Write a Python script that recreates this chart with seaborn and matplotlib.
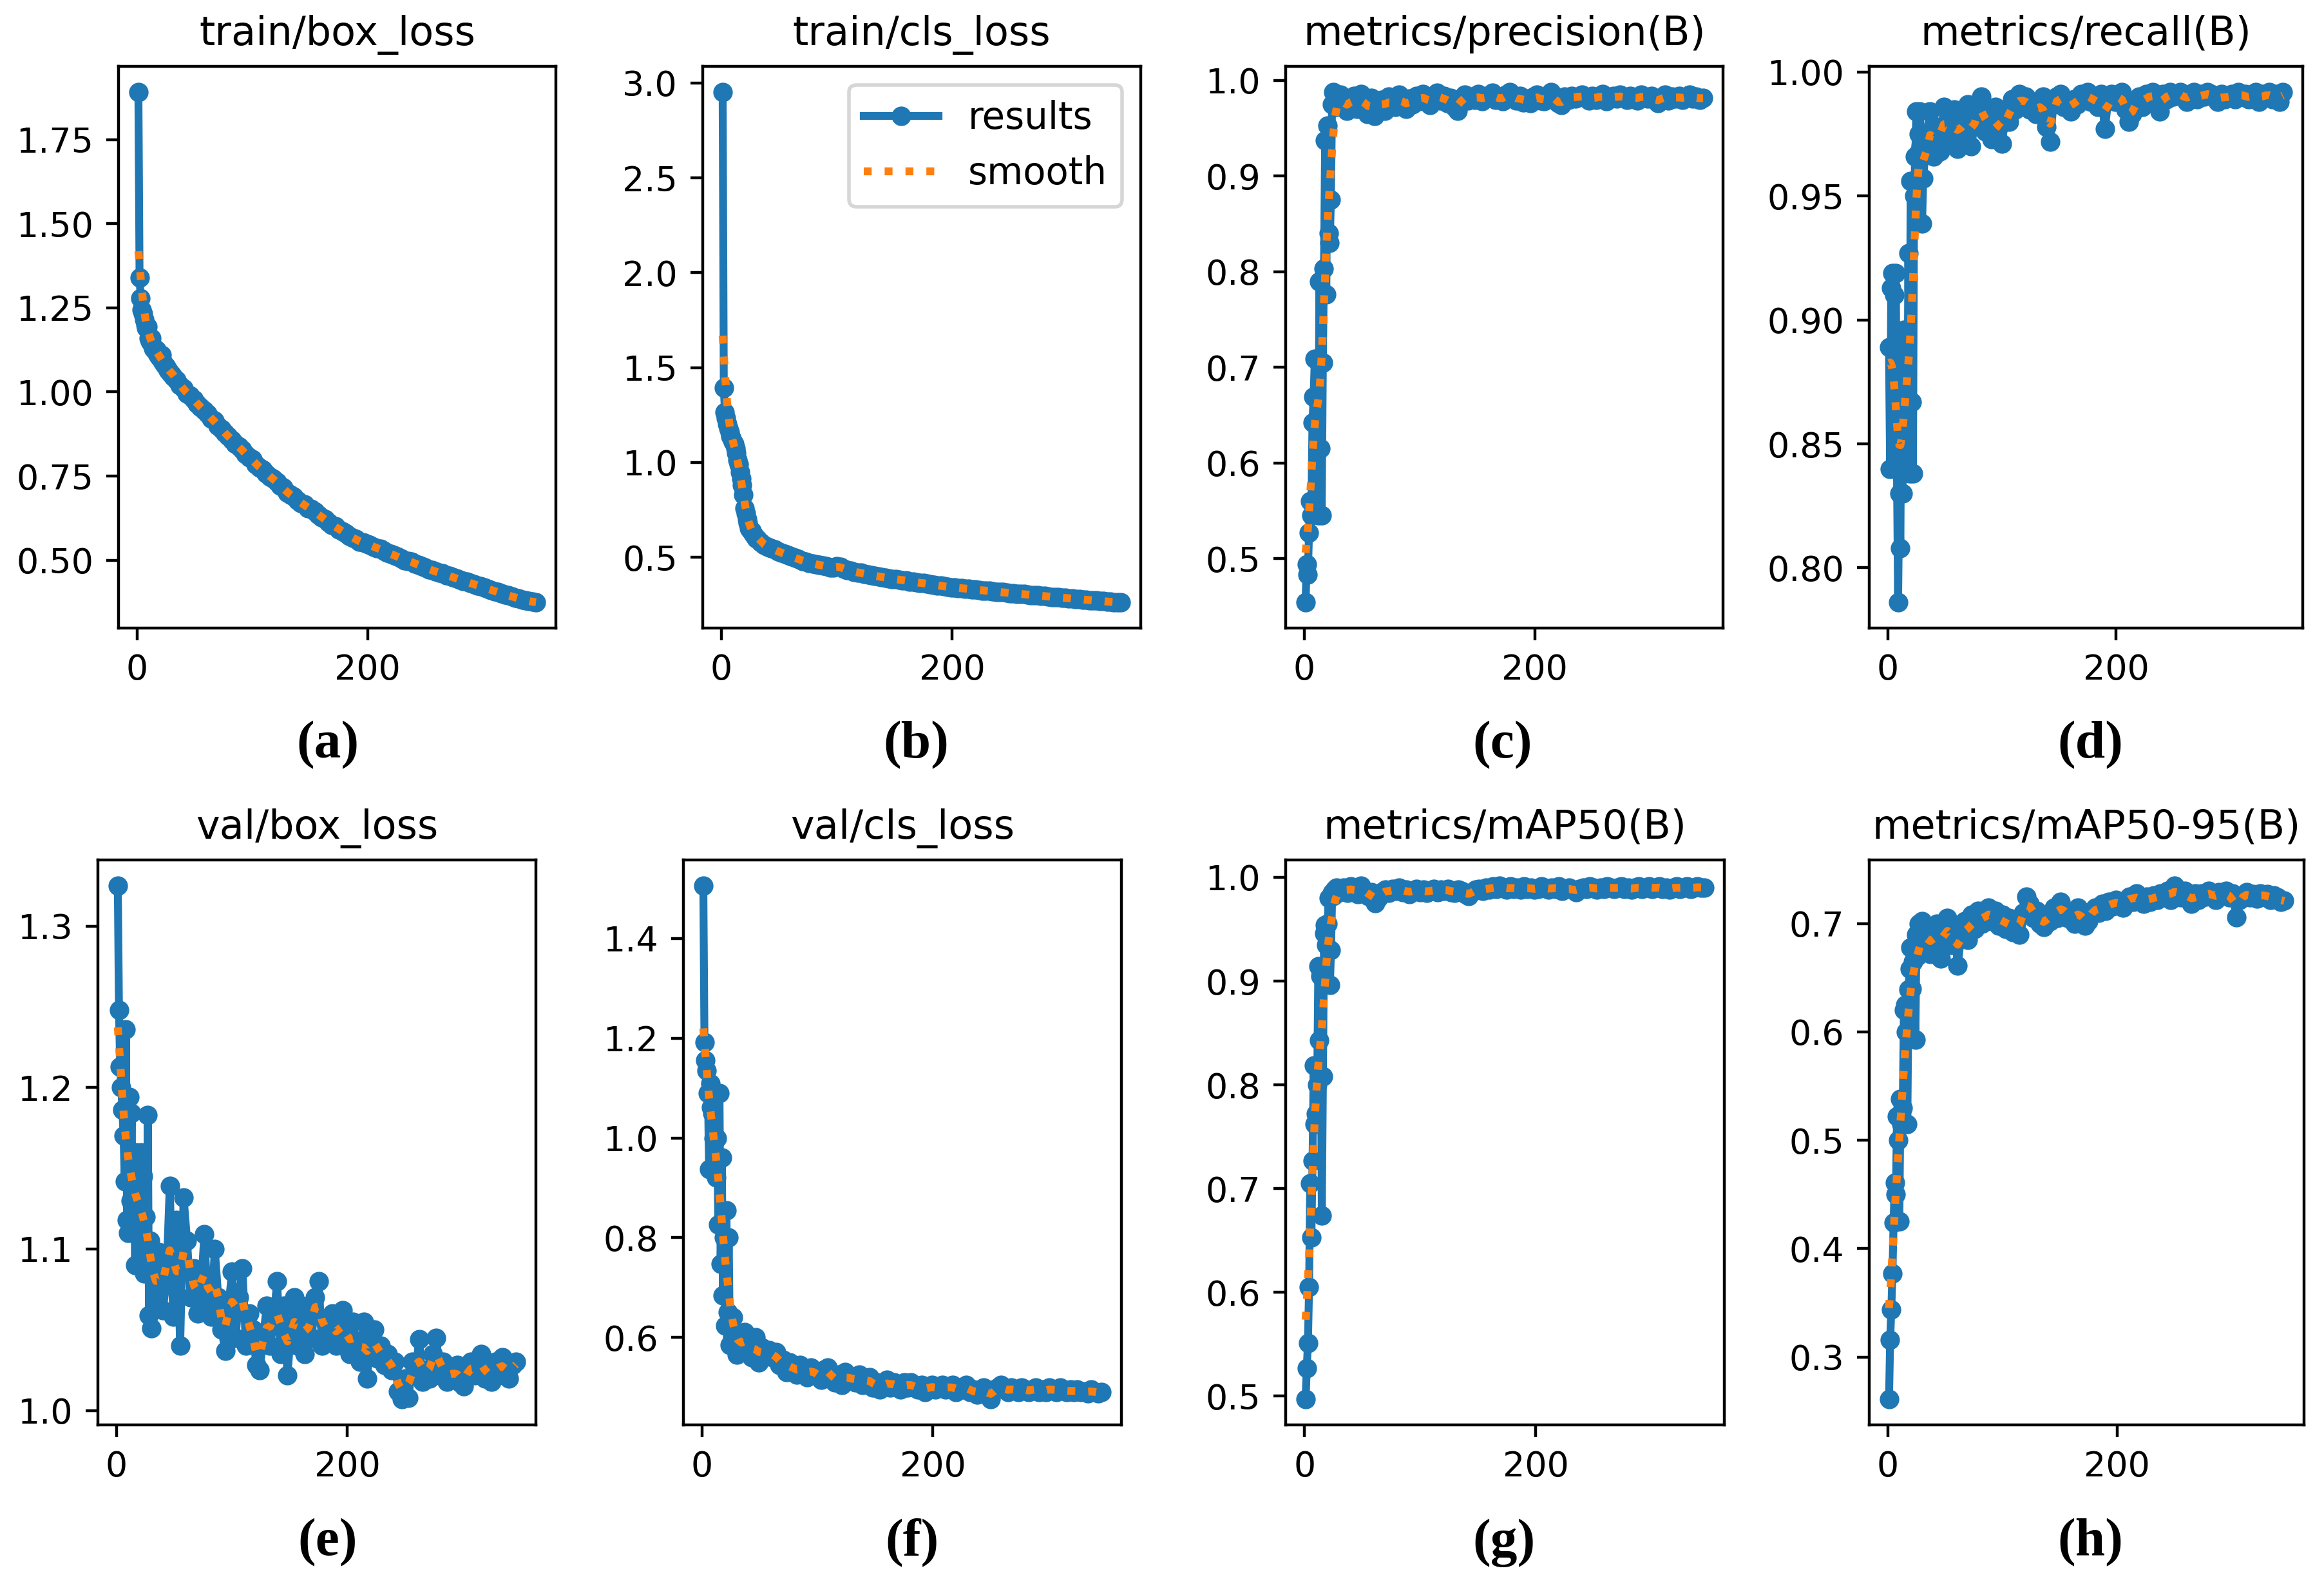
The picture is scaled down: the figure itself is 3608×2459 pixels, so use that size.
import numpy as np
import pandas as pd
import seaborn as sns
import matplotlib.pyplot as plt

# epochs: every epoch up to 30, then every 3rd epoch
epochs = list(range(1, 31)) + list(range(31, 347, 3))

train_box_loss = [
    1.892, 1.340, 1.278, 1.245, 1.232, 1.215, 1.200, 1.190, 1.195, 1.160,
    1.150, 1.160, 1.140, 1.130, 1.125, 1.120, 1.125, 1.110, 1.105, 1.100,
    1.110, 1.090, 1.085, 1.080, 1.075, 1.068, 1.065, 1.060, 1.055, 1.050,
    1.045, 1.035, 1.020, 1.010, 0.995, 0.990, 0.978, 0.965, 0.955, 0.945,
    0.935, 0.920, 0.915, 0.900, 0.890, 0.878, 0.868, 0.858, 0.845, 0.838,
    0.828, 0.815, 0.805, 0.800, 0.785, 0.775, 0.770, 0.758, 0.748, 0.742,
    0.732, 0.722, 0.715, 0.700, 0.695, 0.688, 0.678, 0.670, 0.665, 0.655,
    0.652, 0.645, 0.635, 0.628, 0.622, 0.612, 0.605, 0.600, 0.592, 0.585,
    0.580, 0.572, 0.566, 0.562, 0.555, 0.552, 0.548, 0.545, 0.540, 0.535,
    0.533, 0.528, 0.522, 0.518, 0.515, 0.510, 0.505, 0.500, 0.498, 0.495,
    0.490, 0.486, 0.482, 0.478, 0.473, 0.470, 0.466, 0.462, 0.460, 0.456,
    0.453, 0.449, 0.446, 0.441, 0.438, 0.436, 0.432, 0.428, 0.425, 0.422,
    0.418, 0.415, 0.411, 0.408, 0.405, 0.401, 0.398, 0.395, 0.392, 0.389,
    0.386, 0.383, 0.381, 0.378, 0.376, 0.374]

train_cls_loss = [
    2.953, 1.394, 1.265, 1.235, 1.205, 1.180, 1.160, 1.140, 1.125, 1.110,
    1.100, 1.075, 1.050, 1.015, 0.990, 0.950, 0.915, 0.880, 0.830, 0.760,
    0.730, 0.700, 0.680, 0.655, 0.645, 0.640, 0.630, 0.620, 0.610, 0.600,
    0.595, 0.580, 0.565, 0.555, 0.550, 0.540, 0.530, 0.525, 0.518, 0.510,
    0.505, 0.498, 0.490, 0.482, 0.478, 0.472, 0.468, 0.462, 0.460, 0.457,
    0.453, 0.448, 0.445, 0.455, 0.450, 0.440, 0.433, 0.428, 0.424, 0.420,
    0.418, 0.414, 0.410, 0.405, 0.403, 0.400, 0.396, 0.393, 0.390, 0.386,
    0.385, 0.383, 0.380, 0.378, 0.373, 0.371, 0.368, 0.366, 0.364, 0.361,
    0.358, 0.355, 0.352, 0.350, 0.347, 0.345, 0.343, 0.341, 0.339, 0.337,
    0.336, 0.334, 0.332, 0.330, 0.328, 0.326, 0.325, 0.323, 0.321, 0.319,
    0.317, 0.316, 0.314, 0.312, 0.311, 0.309, 0.307, 0.306, 0.304, 0.302,
    0.301, 0.299, 0.297, 0.296, 0.294, 0.292, 0.291, 0.289, 0.288, 0.286,
    0.285, 0.283, 0.281, 0.280, 0.278, 0.276, 0.275, 0.273, 0.272, 0.270,
    0.269, 0.267, 0.266, 0.264, 0.263, 0.262]

precision = [
    0.454, 0.494, 0.483, 0.527, 0.560, 0.545, 0.642, 0.669, 0.709, 0.640,
    0.709, 0.545, 0.790, 0.615, 0.545, 0.705, 0.803, 0.937, 0.776, 0.953,
    0.840, 0.830, 0.875, 0.975, 0.988, 0.978, 0.985, 0.972, 0.982, 0.978,
    0.985, 0.975, 0.968, 0.980, 0.984, 0.970, 0.986, 0.978, 0.965, 0.982,
    0.963, 0.975, 0.980, 0.968, 0.983, 0.976, 0.972, 0.985, 0.979, 0.970,
    0.981, 0.975, 0.984, 0.978, 0.986, 0.980, 0.974, 0.983, 0.987, 0.979,
    0.984, 0.976, 0.982, 0.972, 0.968, 0.981, 0.985, 0.979, 0.983, 0.980,
    0.986, 0.978, 0.982, 0.984, 0.987, 0.980, 0.983, 0.978, 0.985, 0.988,
    0.982, 0.979, 0.984, 0.977, 0.981, 0.976, 0.983, 0.985, 0.979, 0.978,
    0.982, 0.988, 0.980, 0.976, 0.974, 0.983, 0.980, 0.984, 0.981, 0.983,
    0.985, 0.982, 0.979, 0.984, 0.980, 0.983, 0.986, 0.978, 0.982, 0.984,
    0.981, 0.985, 0.983, 0.980, 0.984, 0.982, 0.979, 0.985, 0.983, 0.981,
    0.984, 0.980, 0.976, 0.982, 0.985, 0.979, 0.983, 0.981, 0.984, 0.980,
    0.982, 0.985, 0.981, 0.983, 0.980, 0.982]

recall = [
    0.889, 0.840, 0.913, 0.919, 0.840, 0.910, 0.919, 0.840, 0.786, 0.830,
    0.808, 0.895, 0.830, 0.896, 0.839, 0.896, 0.839, 0.927, 0.838, 0.956,
    0.867, 0.838, 0.950, 0.966, 0.984, 0.967, 0.975, 0.984, 0.970, 0.939,
    0.957, 0.975, 0.984, 0.966, 0.978, 0.968, 0.986, 0.980, 0.972, 0.985,
    0.969, 0.982, 0.975, 0.987, 0.970, 0.979, 0.985, 0.990, 0.976, 0.983,
    0.973, 0.986, 0.978, 0.971, 0.984, 0.980, 0.989, 0.985, 0.991, 0.987,
    0.990, 0.985, 0.988, 0.983, 0.986, 0.990, 0.978, 0.972, 0.987, 0.990,
    0.991, 0.986, 0.988, 0.984, 0.989, 0.987, 0.991, 0.989, 0.992, 0.988,
    0.990, 0.986, 0.991, 0.977, 0.989, 0.991, 0.988, 0.990, 0.992, 0.985,
    0.980, 0.983, 0.988, 0.990, 0.986, 0.991, 0.989, 0.992, 0.990, 0.984,
    0.991, 0.989, 0.992, 0.990, 0.991, 0.992, 0.990, 0.988, 0.991, 0.992,
    0.989, 0.991, 0.990, 0.992, 0.991, 0.990, 0.988, 0.991, 0.989, 0.990,
    0.991, 0.989, 0.992, 0.990, 0.991, 0.989, 0.990, 0.992, 0.988, 0.991,
    0.990, 0.992, 0.989, 0.991, 0.988, 0.992]

val_box_loss = [
    1.325, 1.248, 1.213, 1.200, 1.186, 1.170, 1.142, 1.236, 1.118, 1.110,
    1.194, 1.130, 1.184, 1.110, 1.150, 1.090, 1.160, 1.120, 1.155, 1.090,
    1.160, 1.100, 1.145, 1.085, 1.120, 1.095, 1.183, 1.059, 1.105, 1.051,
    1.085, 1.070, 1.098, 1.062, 1.080, 1.139, 1.058, 1.118, 1.040, 1.132,
    1.105, 1.070, 1.088, 1.060, 1.075, 1.109, 1.065, 1.058, 1.100, 1.070,
    1.050, 1.037, 1.065, 1.086, 1.045, 1.070, 1.088, 1.040, 1.060, 1.050,
    1.028, 1.025, 1.045, 1.065, 1.040, 1.055, 1.080, 1.035, 1.065, 1.022,
    1.050, 1.070, 1.040, 1.065, 1.035, 1.060, 1.045, 1.070, 1.080, 1.040,
    1.055, 1.048, 1.060, 1.040, 1.050, 1.062, 1.045, 1.035, 1.055, 1.040,
    1.030, 1.055, 1.020, 1.045, 1.050, 1.032, 1.040, 1.028, 1.035, 1.025,
    1.030, 1.012, 1.007, 1.020, 1.008, 1.030, 1.022, 1.044, 1.018, 1.025,
    1.020, 1.035, 1.045, 1.022, 1.030, 1.018, 1.025, 1.020, 1.028, 1.017,
    1.015, 1.025, 1.030, 1.022, 1.028, 1.035, 1.020, 1.025, 1.018, 1.030,
    1.022, 1.033, 1.025, 1.020, 1.028, 1.030]

val_cls_loss = [
    1.506, 1.192, 1.156, 1.135, 1.090, 0.938, 1.109, 1.062, 1.050, 1.000,
    0.960, 0.920, 1.000, 0.826, 1.090, 0.748, 0.960, 0.684, 0.800, 0.623,
    0.855, 0.650, 0.800, 0.585, 0.640, 0.600, 0.640, 0.610, 0.585, 0.565,
    0.600, 0.575, 0.610, 0.585, 0.560, 0.600, 0.550, 0.580, 0.565, 0.575,
    0.560, 0.570, 0.545, 0.555, 0.530, 0.550, 0.540, 0.525, 0.545, 0.535,
    0.520, 0.540, 0.530, 0.525, 0.515, 0.535, 0.540, 0.520, 0.510, 0.525,
    0.505, 0.530, 0.515, 0.520, 0.510, 0.525, 0.505, 0.515, 0.520, 0.500,
    0.510, 0.495, 0.505, 0.515, 0.500, 0.510, 0.505, 0.495, 0.510, 0.500,
    0.510, 0.500, 0.495, 0.505, 0.490, 0.500, 0.505, 0.495, 0.500, 0.505,
    0.495, 0.500, 0.505, 0.490, 0.500, 0.495, 0.505, 0.490, 0.495, 0.485,
    0.495, 0.500, 0.490, 0.476, 0.495, 0.500, 0.505, 0.495, 0.490, 0.500,
    0.495, 0.490, 0.500, 0.495, 0.490, 0.495, 0.500, 0.490, 0.495, 0.490,
    0.500, 0.495, 0.490, 0.500, 0.495, 0.490, 0.495, 0.490, 0.495, 0.490,
    0.492, 0.488, 0.495, 0.490, 0.488, 0.490]

map50 = [
    0.497, 0.527, 0.551, 0.605, 0.705, 0.653, 0.727, 0.819, 0.762, 0.772,
    0.800, 0.914, 0.843, 0.905, 0.674, 0.808, 0.946, 0.954, 0.935, 0.955,
    0.980, 0.896, 0.930, 0.985, 0.982, 0.988, 0.986, 0.990, 0.985, 0.988,
    0.987, 0.990, 0.985, 0.991, 0.988, 0.984, 0.992, 0.987, 0.982, 0.986,
    0.975, 0.980, 0.986, 0.988, 0.985, 0.989, 0.987, 0.990, 0.986, 0.988,
    0.984, 0.987, 0.989, 0.986, 0.988, 0.985, 0.987, 0.989, 0.986, 0.988,
    0.987, 0.989, 0.986, 0.985, 0.988, 0.987, 0.984, 0.982, 0.986, 0.988,
    0.989, 0.987, 0.990, 0.988, 0.991, 0.989, 0.992, 0.990, 0.988, 0.991,
    0.989, 0.990, 0.988, 0.991, 0.989, 0.990, 0.988, 0.989, 0.991, 0.990,
    0.988, 0.990, 0.989, 0.991, 0.987, 0.989, 0.990, 0.988, 0.986, 0.989,
    0.990, 0.989, 0.991, 0.990, 0.988, 0.990, 0.989, 0.991, 0.990, 0.989,
    0.990, 0.991, 0.989, 0.990, 0.988, 0.990, 0.991, 0.989, 0.990, 0.991,
    0.989, 0.990, 0.991, 0.989, 0.990, 0.988, 0.990, 0.991, 0.989, 0.990,
    0.991, 0.989, 0.990, 0.991, 0.990, 0.990]

map50_95 = [
    0.261, 0.316, 0.344, 0.377, 0.424, 0.461, 0.450, 0.522, 0.500, 0.425,
    0.538, 0.515, 0.530, 0.620, 0.625, 0.600, 0.515, 0.639, 0.658, 0.678,
    0.640, 0.665, 0.680, 0.593, 0.690, 0.670, 0.700, 0.685, 0.675, 0.702,
    0.680, 0.695, 0.672, 0.688, 0.700, 0.668, 0.692, 0.705, 0.680, 0.698,
    0.661, 0.690, 0.702, 0.685, 0.708, 0.695, 0.712, 0.700, 0.705, 0.715,
    0.702, 0.712, 0.698, 0.708, 0.695, 0.705, 0.692, 0.700, 0.690, 0.710,
    0.725, 0.718, 0.705, 0.712, 0.700, 0.697, 0.708, 0.702, 0.715, 0.705,
    0.720, 0.712, 0.705, 0.710, 0.700, 0.715, 0.708, 0.698, 0.702, 0.712,
    0.715, 0.710, 0.718, 0.712, 0.720, 0.716, 0.722, 0.718, 0.715, 0.722,
    0.725, 0.720, 0.728, 0.722, 0.718, 0.725, 0.720, 0.726, 0.722, 0.728,
    0.725, 0.730, 0.722, 0.735, 0.728, 0.724, 0.730, 0.726, 0.718, 0.728,
    0.722, 0.728, 0.725, 0.730, 0.727, 0.722, 0.729, 0.726, 0.730, 0.724,
    0.728, 0.706, 0.722, 0.726, 0.729, 0.724, 0.727, 0.723, 0.728, 0.725,
    0.727, 0.722, 0.726, 0.724, 0.720, 0.721]

titles = ['train/box_loss', 'train/cls_loss', 'metrics/precision(B)', 'metrics/recall(B)',
          'val/box_loss', 'val/cls_loss', 'metrics/mAP50(B)', 'metrics/mAP50-95(B)']
series = [train_box_loss, train_cls_loss, precision, recall,
          val_box_loss, val_cls_loss, map50, map50_95]
panel_tags = ['(a)', '(b)', '(c)', '(d)', '(e)', '(f)', '(g)', '(h)']
ytick_steps = [0.25, 0.5, 0.1, 0.05, 0.1, 0.2, 0.1, 0.1]

# axes boxes in pixels of the 3608x2459 figure: left, top, width, height
W, H = 3608, 2459
boxes = [(184, 103, 679, 872), (1091, 103, 680, 872), (1996, 103, 679, 872), (2902, 103, 673, 872),
         (152, 1335, 680, 877), (1061, 1335, 680, 877), (1996, 1335, 681, 877), (2902, 1335, 675, 877)]
tag_pos = [(509, 1157), (1422, 1157), (2333, 1157), (3245, 1157),
           (509, 2395), (1416, 2395), (2335, 2395), (3245, 2395)]


def smooth(x, y, sigma=3.0):
    # gaussian smoothing over epochs (like gaussian_filter1d, sigma=3)
    x = np.asarray(x, float)
    y = np.asarray(y, float)
    w = np.exp(-0.5 * ((x[:, None] - x[None, :]) / sigma) ** 2)
    return (w @ y) / w.sum(axis=1)


fig = plt.figure(figsize=(W / 400, H / 400), dpi=400)

for i, (title, y) in enumerate(zip(titles, series)):
    assert len(y) == len(epochs), (title, len(y))
    l, t, w, h = boxes[i]
    ax = fig.add_axes([l / W, 1 - (t + h) / H, w / W, h / H])
    df = pd.DataFrame({'epoch': epochs, 'value': y})
    df['smooth'] = smooth(df['epoch'], df['value'])

    sns.lineplot(data=df, x='epoch', y='value', ax=ax, marker='.', markersize=8.5,
                 linewidth=2.2, color='#1f77b4', markeredgecolor='#1f77b4',
                 markeredgewidth=1.2, label='results')
    sns.lineplot(data=df, x='epoch', y='smooth', ax=ax, linestyle=':',
                 linewidth=2.2, color='#ff7f0e', label='smooth')

    ax.set_title(title, fontsize=11.2)
    ax.set_xlabel('')
    ax.set_ylabel('')
    ax.set_xticks([0, 200])
    ax.yaxis.set_major_locator(plt.MultipleLocator(ytick_steps[i]))
    ax.tick_params(labelsize=9.7)

    if i == 1:
        ax.legend(loc='upper right', fontsize=10.4)
    elif ax.get_legend() is not None:
        ax.get_legend().remove()

    fig.text(tag_pos[i][0] / W, 1 - tag_pos[i][1] / H, panel_tags[i],
             family='Liberation Serif', weight='bold', fontsize=15,
             ha='center', va='center')

fig.savefig('out.png', dpi=400)
